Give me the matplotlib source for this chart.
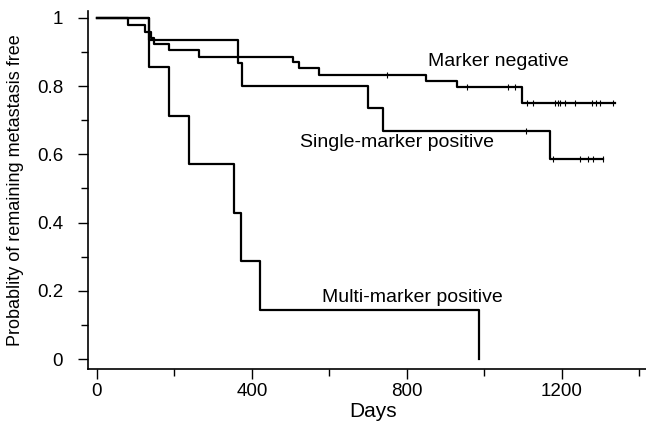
import matplotlib
matplotlib.use('Agg')
import matplotlib.pyplot as plt

plt.rcParams['font.family'] = ['Liberation Sans', 'DejaVu Sans']

# Kaplan-Meier step data: (day, survival after the event)
neg_days = [0, 80, 124, 140, 148, 186, 264, 506, 521, 573, 850, 929, 1097, 1337]
neg_surv = [1.0, 0.98, 0.96, 0.94, 0.925, 0.906, 0.886, 0.87, 0.853, 0.833, 0.815, 0.797, 0.752, 0.752]
neg_cens_days = [748, 955, 1061, 1079, 1110, 1125, 1182, 1190, 1195, 1208, 1234, 1277, 1288, 1298, 1332]

single_days = [0, 134, 364, 375, 700, 738, 1169, 1306]
single_surv = [1.0, 0.935, 0.867, 0.802, 0.736, 0.67, 0.586, 0.586]
single_cens_days = [1107, 1177, 1246, 1267, 1280, 1306]

multi_days = [0, 134, 186, 237, 354, 372, 421, 986]
multi_surv = [1.0, 0.857, 0.714, 0.571, 0.429, 0.286, 0.143, 0.0]

labels = ["Marker negative", "Single-marker positive", "Multi-marker positive"]
label_pos = [(854, 0.871), (524, 0.636), (581, 0.179)]

x_ticks = [0, 400, 800, 1200]
y_ticks = [0, 0.2, 0.4, 0.6, 0.8, 1.0]
y_tick_labels = ["0", "0.2", "0.4", "0.6", "0.8", "1"]


def surv_at(days, surv, t):
    s = surv[0]
    for d, v in zip(days, surv):
        if d <= t:
            s = v
    return s


fig = plt.figure(figsize=(6.46, 4.26), dpi=100)
ax = fig.add_axes([88 / 646, 57 / 426, 558 / 646, 358 / 426])

lw = 1.6
ax.step(neg_days, neg_surv, where='post', color='black', lw=lw)
ax.step(single_days, single_surv, where='post', color='black', lw=lw)
ax.step(multi_days, multi_surv, where='post', color='black', lw=lw)

for days, surv, cens in [(neg_days, neg_surv, neg_cens_days),
                         (single_days, single_surv, single_cens_days)]:
    ys = [surv_at(days, surv, c) for c in cens]
    ax.plot(cens, ys, ls='none', marker='|', ms=4, mew=0.8, color='black')

for txt, (x, y) in zip(labels, label_pos):
    ax.text(x, y, txt, fontsize=14, va='center', ha='left')

ax.set_xlim(-23, 1417)
ax.set_ylim(-0.0293, 1.0205)
ax.set_xticks(x_ticks)
ax.set_xticks([200, 600, 1000, 1400], minor=True)
ax.set_yticks(y_ticks)
ax.set_yticklabels(y_tick_labels)
ax.set_yticks([0.1, 0.3, 0.5, 0.7, 0.9], minor=True)

for s in ['top', 'right']:
    ax.spines[s].set_visible(False)
for s in ['left', 'bottom']:
    ax.spines[s].set_linewidth(1.2)

ax.tick_params(axis='both', which='major', length=7, width=1, labelsize=13.5)
ax.tick_params(axis='both', which='minor', length=5, width=1)
ax.tick_params(axis='y', which='major', pad=11)
ax.tick_params(axis='x', which='major', pad=3)

ax.set_xlabel("Days", fontsize=15)
ax.xaxis.set_label_coords(0.511, -0.092)
ax.set_ylabel("Probablity of remaining metastasis free", fontsize=13, labelpad=9)

fig.savefig("out.png", dpi=100)
